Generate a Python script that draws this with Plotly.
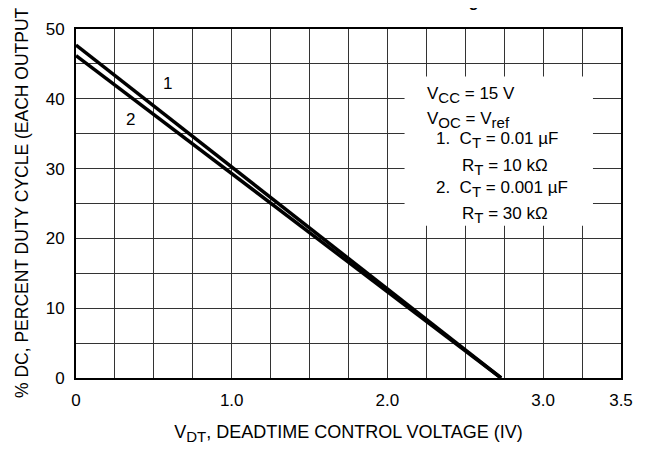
import plotly.graph_objects as go

# Data
curve1_x = [0.0, 2.73]
curve1_y = [47.7, 0.0]
curve2_x = [0.0, 2.73]
curve2_y = [46.2, 0.0]

x_tickvals = [0, 0.25, 0.5, 0.75, 1.0, 1.25, 1.5, 1.75, 2.0, 2.25, 2.5, 2.75, 3.0, 3.25, 3.5]
x_ticktext = ["0", "", "", "", "1.0", "", "", "", "2.0", "", "", "", "3.0", "", "3.5"]
y_tickvals = [0, 5, 10, 15, 20, 25, 30, 35, 40, 45, 50]
y_ticktext = ["0", "", "10", "", "20", "", "30", "", "40", "", "50"]

FONT = "Liberation Sans Narrow, Arial Narrow, Liberation Sans, Arial, sans-serif"
FS = 17


def sub(s):
    return "<sub><span style='font-size:15px'>" + s + "</span></sub>"


fig = go.Figure()
fig.add_trace(go.Scatter(x=curve1_x, y=curve1_y, mode="lines",
                         line=dict(color="black", width=3.5), showlegend=False))
fig.add_trace(go.Scatter(x=curve2_x, y=curve2_y, mode="lines",
                         line=dict(color="black", width=3.5), showlegend=False))

# white box behind condition text
fig.add_shape(type="rect", xref="x", yref="y", x0=2.11, x1=3.32, y0=21.8, y1=43.2,
              fillcolor="white", line=dict(width=0), layer="above")

for x, y, t in [(0.59, 42.2, "1"), (0.35, 37.0, "2")]:
    fig.add_annotation(x=x, y=y, xref="x", yref="y", text=t, showarrow=False,
                       font=dict(family=FONT, size=FS, color="black"))

cond_lines = [
    (2.24, 40.6, "V" + sub("CC") + " = 15 V"),
    (2.24, 37.0, "V" + sub("OC") + " = V" + sub("ref")),
    (2.30, 34.1, "1.  C" + sub("T") + " = 0.01 \u00b5F"),
    (2.465, 30.2, "R" + sub("T") + " = 10 k\u03a9"),
    (2.30, 27.05, "2.  C" + sub("T") + " = 0.001 \u00b5F"),
    (2.465, 23.35, "R" + sub("T") + " = 30 k\u03a9"),
]
for x, y, t in cond_lines:
    fig.add_annotation(x=x, y=y, xref="x", yref="y", text=t, showarrow=False,
                       xanchor="left", font=dict(family=FONT, size=FS, color="black"))

L, R, T, B = 68, 34, 19, 80
W, H = 647, 450
pw, ph = W - L - R, H - T - B

# partially visible title (cut off at top of the image)
fig.add_annotation(x=(481 - L) / pw, y=(T + ph - 1.5) / ph,
                   xref="paper", yref="paper", text="<b>Deadtime Control Voltage</b>",
                   showarrow=False, xanchor="right", yanchor="bottom",
                   font=dict(family="Liberation Sans, Arial, sans-serif", size=16, color="black"))

# y-axis title as rotated annotation
fig.add_annotation(x=(14 - L) / pw, y=1 - (191 - T) / ph, xref="paper", yref="paper",
                   text="% DC, PERCENT DUTY CYCLE (EACH OUTPUT)", textangle=-90,
                   showarrow=False, xanchor="center", yanchor="middle",
                   font=dict(family=FONT, size=17.5, color="black"))

fig.update_layout(
    width=W, height=H,
    margin=dict(l=L, r=R, t=T, b=B),
    paper_bgcolor="white", plot_bgcolor="white",
    font=dict(family=FONT, size=FS, color="black"),
)

fig.update_xaxes(range=[0, 3.5], tickvals=x_tickvals, ticktext=x_ticktext,
                 showgrid=True, gridcolor="#333333", gridwidth=1,
                 showline=True, linecolor="black", linewidth=2, mirror=True,
                 ticks="", zeroline=False, ticklabelstandoff=6,
                 title=dict(text="V" + sub("DT") + ", DEADTIME CONTROL VOLTAGE (IV)",
                            font=dict(family=FONT, size=18), standoff=16),
                 tickfont=dict(family=FONT, size=FS))
fig.update_yaxes(range=[0, 50], tickvals=y_tickvals, ticktext=y_ticktext,
                 showgrid=True, gridcolor="#333333", gridwidth=1,
                 showline=True, linecolor="black", linewidth=2, mirror=True,
                 ticks="", zeroline=False, ticklabelstandoff=6,
                 tickfont=dict(family=FONT, size=FS))

fig.write_html("out.html")
